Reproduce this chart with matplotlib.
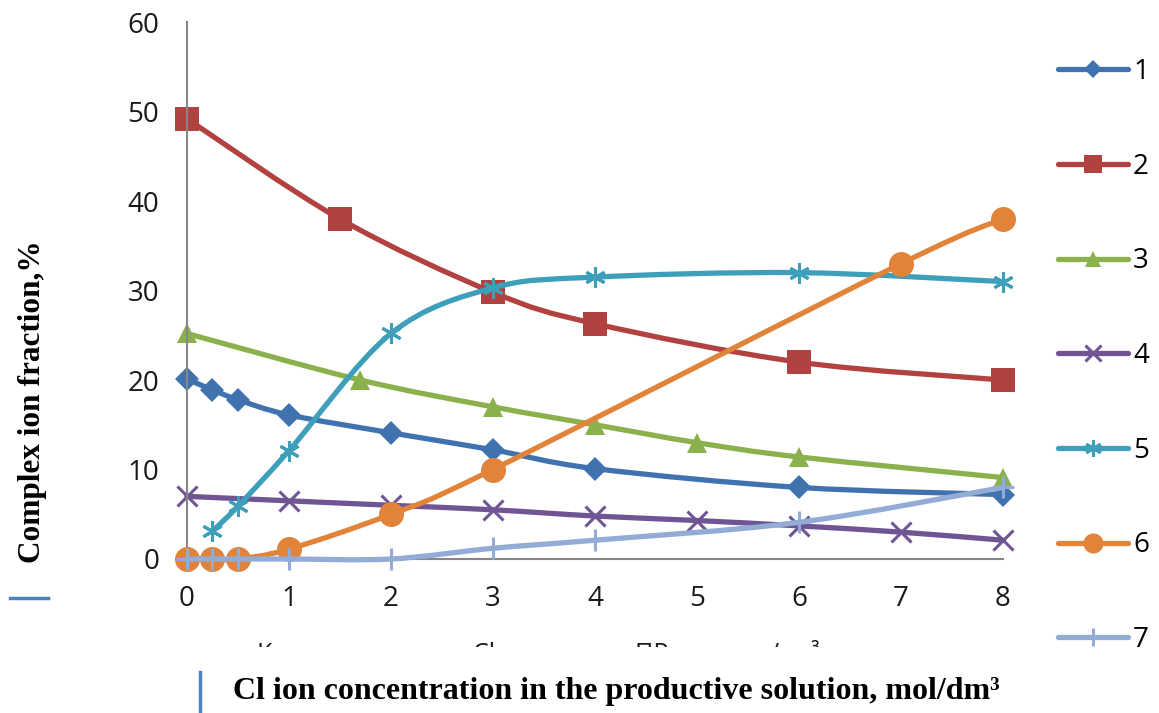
import matplotlib
matplotlib.use('Agg')
import matplotlib.pyplot as plt
import numpy as np
from matplotlib.path import Path
from matplotlib.patches import PathPatch
from matplotlib.lines import Line2D
from matplotlib.transforms import Bbox, TransformedBbox

# данные
x1 = [0, 0.25, 0.5, 1, 2, 3, 4, 6, 8]
y1 = [20.1, 18.9, 17.8, 16.1, 14.1, 12.2, 10.1, 8.0, 7.2]
x2 = [0, 1.5, 3, 4, 6, 8]
y2 = [49.2, 38.0, 29.8, 26.3, 22.0, 20.0]
x3 = [0, 1.7, 3, 4, 5, 6, 8]
y3 = [25.2, 20.0, 17.0, 15.0, 13.0, 11.4, 9.1]
x4 = [0, 1, 2, 3, 4, 5, 6, 7, 8]
y4 = [7.0, 6.5, 6.0, 5.5, 4.8, 4.3, 3.7, 3.0, 2.1]
x5 = [0.25, 0.5, 1, 2, 3, 4, 6, 8]
y5 = [3.1, 5.9, 12.1, 25.2, 30.3, 31.5, 32.0, 31.0]
x6 = [0, 0.25, 0.5, 1, 2, 3, 7, 8]
y6 = [0, 0, 0, 1.1, 5.0, 10.0, 33.0, 38.0]
x7 = [0, 0.25, 0.5, 1, 2, 3, 4, 6, 8]
y7 = [0, 0, 0, 0, 0, 1.2, 2.1, 4.1, 8.0]

names = ['1', '2', '3', '4', '5', '6', '7']
colors = ['#4172B0', '#B2423F', '#8AB14B', '#6F5594', '#3D9FB9', '#E2833A', '#92ACD6']
markers = ['D', 's', '^', 'x', (6, 2, 0), 'o', '+']
msizes = [12, 17, 14, 14, 15, 18, 16]
xs = [x1, x2, x3, x4, x5, x6, x7]
ys = [y1, y2, y3, y4, y5, y6, y7]

# обрывки старой русской подписи (видны только верхушки букв)
old_words = ['Концентрация ионов', 'Cl в растворе', 'ПР, моль', '/дм³']
old_word_x = [257, 473, 635, 770]


def smooth_path(x, y):
    # сглаживание как в Excel (Catmull-Rom -> Bezier)
    p = np.column_stack([x, y]).astype(float)
    verts = [p[0]]
    codes = [Path.MOVETO]
    n = len(p)
    for i in range(n - 1):
        p0 = p[i - 1] if i > 0 else p[i]
        p3 = p[i + 2] if i + 2 < n else p[i + 1]
        c1 = p[i] + (p[i + 1] - p0) / 6
        c2 = p[i + 1] - (p3 - p[i]) / 6
        verts += [c1, c2, p[i + 1]]
        codes += [Path.CURVE4] * 3
    return Path(verts, codes)


fig = plt.figure(figsize=(11.59, 7.13), dpi=100)
ax = fig.add_axes([0.1613, 0.216, 0.7041, 0.753])

handles = []
for i in range(7):
    ax.add_patch(PathPatch(smooth_path(xs[i], ys[i]), fill=False, edgecolor=colors[i],
                           lw=3.8, zorder=2 + i * 0.1, clip_on=False, capstyle='round'))
    mew = 2.2 if markers[i] in ('x', '+') or isinstance(markers[i], tuple) else 0
    ax.plot(xs[i], ys[i], linestyle='none', marker=markers[i], ms=msizes[i],
            color=colors[i], mec=colors[i], mew=mew, zorder=2.05 + i * 0.1, clip_on=False)
    handles.append(Line2D([], [], color=colors[i], lw=3.8, marker=markers[i],
                          ms=msizes[i] * 0.8, mec=colors[i], mew=mew,
                          solid_capstyle='round'))

ax.set_xlim(0, 8)
ax.set_ylim(0, 60)
ax.set_xticks(range(0, 9))
ax.set_yticks(range(0, 61, 10))
for s in ['top', 'right']:
    ax.spines[s].set_visible(False)
for s in ['left', 'bottom']:
    ax.spines[s].set_color('#868686')
    ax.spines[s].set_linewidth(1.5)
ax.tick_params(length=0, labelsize=20, labelcolor='#1a1a1a')
ax.tick_params(axis='y', pad=20)
ax.tick_params(axis='x', pad=19)
for lab in ax.get_xticklabels() + ax.get_yticklabels():
    lab.set_family('Open Sans')

leg = fig.legend(handles, names, loc='upper left', bbox_to_anchor=(1058 / 1159, 1 - 58 / 713),
                 frameon=False, borderpad=0, borderaxespad=0, labelspacing=2.4,
                 handlelength=2.52, handletextpad=0.18,
                 prop={'family': 'Open Sans', 'size': 20})

fig.text(0.028, 0.436, 'Complex ion fraction,%', rotation=90, ha='center', va='center',
         family='Liberation Serif', weight='bold', fontsize=22.5)
fig.text(0.5315, 0.0295, 'Cl ion concentration in the productive solution, mol/dm³',
         ha='center', va='center', family='Liberation Serif', weight='bold', fontsize=23)

clip = TransformedBbox(Bbox([[0, 66 / 713], [1, 1]]), fig.transFigure)
for w, wx in zip(old_words, old_word_x):
    t = fig.text(wx / 1159, 52 / 713, w, ha='left', va='baseline',
                 family=['Open Sans', 'DejaVu Sans'], fontsize=18, color='#1a1a1a')
    t.set_clip_box(clip)
    t.set_clip_on(True)

# синие отрезки
fig.add_artist(Line2D([10 / 1159, 48 / 1159], [1 - 598 / 713] * 2, color='#4F81BD', lw=2.5))
fig.add_artist(Line2D([200 / 1159] * 2, [1 - 672 / 713, 0], color='#4F81BD', lw=2.5))

fig.savefig('out.png', dpi=100)
